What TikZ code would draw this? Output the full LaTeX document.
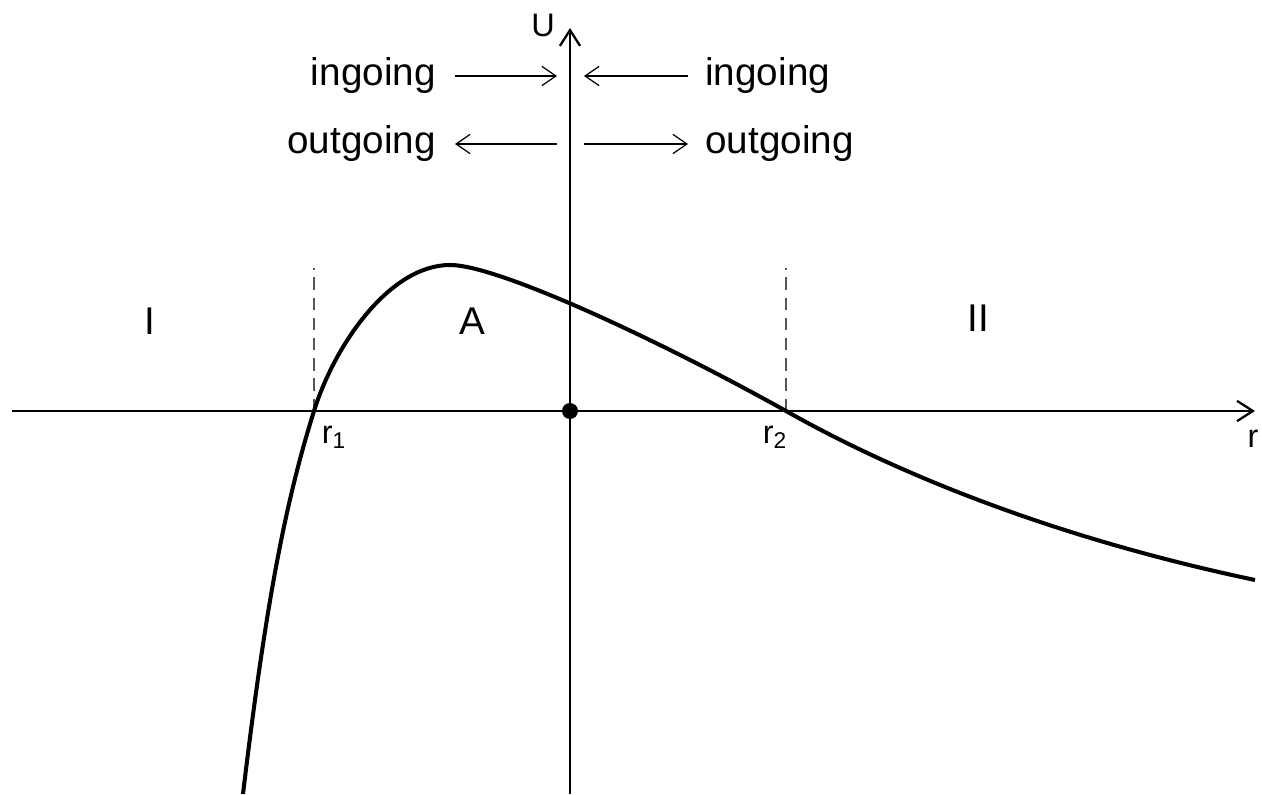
\documentclass[tikz,border=0pt]{standalone}
\usepackage{fontspec}
\setmainfont{Liberation Sans}
\usepackage{xcolor}
\usepackage{tikz}
\usetikzlibrary{arrows.meta,positioning,calc}
\definecolor{ink}{HTML}{000000}
\definecolor{guide}{HTML}{555555}
\tikzset{
    every picture/.style={line cap=butt,line join=round},
    axisline/.style={draw=ink,line width=1.4pt,
      -{Straight Barb[length=9pt,width=11.5pt,line width=1.3pt]}},
    potential/.style={draw=ink,line width=2.3pt},
    guideline/.style={draw=guide,line width=0.8pt,dash pattern=on 7pt off 4.5pt},
    flowarrow/.style={draw=ink,line width=0.7pt,
      -{Straight Barb[length=8pt,width=11pt,line width=0.7pt]}},
    flowtext/.style={inner sep=0pt,font=\fontsize{22}{26}\selectfont},
    regionlabel/.style={inner sep=0pt,font=\fontsize{22}{26}\selectfont},
    axislabel/.style={inner sep=0pt,font=\fontsize{18.5}{22}\selectfont}
}
\begin{document}
\begin{tikzpicture}
  \useasboundingbox (-11.4,-7.66) rectangle (13.84,8.22);
  % axes
  \coordinate (xstart) at (-11.16,0);
  \coordinate (xend) at (13.7,0);
  \coordinate (ystart) at (0,-7.66);
  \coordinate (yend) at (0,7.66);
  \draw[axisline] (xstart) -- (xend);
  \draw[axisline] (ystart) -- (yend);
  \node[circle,fill=ink,minimum size=0.32cm,inner sep=0pt] (origin) at (0,0) {};

  % turning points and guides
  \coordinate (r1) at (-5.12,0);
  \coordinate (r2) at (4.32,0);
  \coordinate (r1top) at (-5.12,2.86);
  \coordinate (r2top) at (4.32,2.86);
  \coordinate (peak) at (-2.4,2.92);
  \draw[guideline] (r1) -- (r1top);
  \draw[guideline] (r2) -- (r2top);

  % potential curve
  \draw[potential] (-6.54,-7.66) .. controls (-6.1,-4.0) and (-5.72,-1.91) .. (r1)
    .. controls (-4.7,1.34) and (-3.6,2.92) .. (peak)
    .. controls (-1.4,2.92) and (2.0,1.3) .. (r2)
    .. controls (6.8,-1.4) and (10,-2.6) .. (13.7,-3.38);

  % labels on the axes
  \node[axislabel] (lblr1) at (-4.72,-0.52) {r\textsubscript{1}};
  \node[axislabel] (lblr2) at (4.1,-0.52) {r\textsubscript{2}};
  \node[axislabel] (lblr) at (13.66,-0.56) {r};
  \node[axislabel] (lblU) at (-0.54,7.72) {U};

  % regions
  \node[regionlabel] (regI) at (-8.4,1.8) {I};
  \node[regionlabel] (regA) at (-1.96,1.8) {A};
  \node[regionlabel] (regII) at (8.16,1.86) {II};

  % ingoing / outgoing
  \node[flowtext,anchor=east] (inL) at (-2.68,6.7) {ingoing};
  \node[flowtext,anchor=west] (inR) at (2.7,6.7) {ingoing};
  \node[flowtext,anchor=east] (outL) at (-2.68,5.34) {outgoing};
  \node[flowtext,anchor=west] (outR) at (2.7,5.34) {outgoing};
  \coordinate (inLtip) at (-0.26,6.7);
  \coordinate (inRtip) at (0.28,6.7);
  \coordinate (outLend) at (-0.26,5.34);
  \coordinate (outRend) at (0.28,5.34);
  \draw[flowarrow,shorten <=0.38cm] (inL) -- (inLtip);
  \draw[flowarrow,shorten <=0.34cm] (inR) -- (inRtip);
  \draw[flowarrow,shorten >=0.38cm] (outLend) -- (outL);
  \draw[flowarrow,shorten >=0.34cm] (outRend) -- (outR);
\end{tikzpicture}
\end{document}
